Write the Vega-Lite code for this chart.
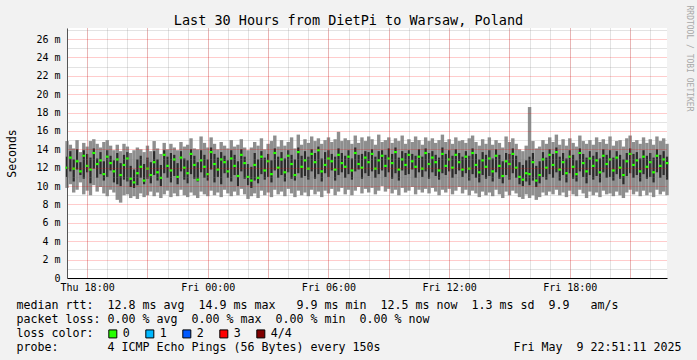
{
  "$schema": "https://vega.github.io/schema/vega-lite/v6.json",
  "width": 600,
  "height": 250,
  "autosize": "none",
  "padding": {"left": 67, "top": 28, "right": 30, "bottom": 82},
  "background": "#f2f2f2",
  "config": {
    "font": "DejaVu Sans Mono",
    "view": {"stroke": null, "fill": "#ffffff"}
  },
  "title": {
    "text": "Last 30 Hours from DietPi to Warsaw, Poland",
    "fontSize": 13.5,
    "fontWeight": "normal",
    "color": "#000000",
    "anchor": "middle",
    "frame": "group",
    "dx": -18.5,
    "baseline": "alphabetic",
    "offset": -33
  },
  "data": {
    "values": [
      {"t":"2025-05-08T17:00","min":9.8,"p2":11.0,"med":12.0,"p3":13.2,"max":14.9,"loss":"0"},
      {"t":"2025-05-08T17:10","min":10.2,"p2":11.6,"med":13.1,"p3":13.8,"max":14.5,"loss":"0"},
      {"t":"2025-05-08T17:20","min":9.3,"p2":10.5,"med":11.9,"p3":12.9,"max":14.1,"loss":"0"},
      {"t":"2025-05-08T17:30","min":9.6,"p2":11.8,"med":12.7,"p3":14.0,"max":15.0,"loss":"0"},
      {"t":"2025-05-08T17:40","min":10.4,"p2":11.2,"med":11.6,"p3":12.6,"max":13.7,"loss":"0"},
      {"t":"2025-05-08T17:50","min":9.1,"p2":10.8,"med":13.3,"p3":13.9,"max":14.7,"loss":"0"},
      {"t":"2025-05-08T18:00","min":9.5,"p2":11.5,"med":12.2,"p3":13.5,"max":14.3,"loss":"0"},
      {"t":"2025-05-08T18:10","min":9.0,"p2":10.3,"med":11.8,"p3":13.1,"max":14.9,"loss":"0"},
      {"t":"2025-05-08T18:20","min":10.1,"p2":11.9,"med":13.6,"p3":14.1,"max":15.1,"loss":"0"},
      {"t":"2025-05-08T18:30","min":9.4,"p2":10.9,"med":12.4,"p3":13.0,"max":14.6,"loss":"0"},
      {"t":"2025-05-08T18:40","min":9.9,"p2":11.3,"med":12.8,"p3":13.7,"max":14.2,"loss":"0"},
      {"t":"2025-05-08T18:50","min":9.2,"p2":10.6,"med":11.3,"p3":12.7,"max":14.8,"loss":"0"},
      {"t":"2025-05-08T19:00","min":8.9,"p2":11.0,"med":13.2,"p3":13.9,"max":15.0,"loss":"0"},
      {"t":"2025-05-08T19:10","min":9.6,"p2":11.7,"med":12.5,"p3":13.3,"max":14.4,"loss":"0"},
      {"t":"2025-05-08T19:20","min":9.3,"p2":10.4,"med":11.6,"p3":12.8,"max":13.9,"loss":"0"},
      {"t":"2025-05-08T19:30","min":8.5,"p2":10.2,"med":12.9,"p3":13.6,"max":14.5,"loss":"0"},
      {"t":"2025-05-08T19:40","min":8.2,"p2":10.0,"med":11.2,"p3":12.5,"max":13.8,"loss":"0"},
      {"t":"2025-05-08T19:50","min":9.0,"p2":10.7,"med":12.3,"p3":13.4,"max":14.6,"loss":"0"},
      {"t":"2025-05-08T20:00","min":9.1,"p2":10.5,"med":13.0,"p3":13.7,"max":14.3,"loss":"0"},
      {"t":"2025-05-08T20:10","min":8.7,"p2":9.9,"med":10.8,"p3":12.2,"max":13.6,"loss":"0"},
      {"t":"2025-05-08T20:20","min":8.9,"p2":9.8,"med":10.4,"p3":11.8,"max":13.9,"loss":"0"},
      {"t":"2025-05-08T20:30","min":8.6,"p2":10.1,"med":11.4,"p3":12.9,"max":14.2,"loss":"0"},
      {"t":"2025-05-08T20:40","min":9.2,"p2":10.9,"med":12.1,"p3":13.3,"max":14.0,"loss":"0"},
      {"t":"2025-05-08T20:50","min":8.8,"p2":10.2,"med":10.6,"p3":12.4,"max":13.7,"loss":"0"},
      {"t":"2025-05-08T21:00","min":9.0,"p2":10.8,"med":11.9,"p3":13.1,"max":14.4,"loss":"0"},
      {"t":"2025-05-08T21:10","min":9.4,"p2":10.3,"med":11.2,"p3":12.6,"max":13.8,"loss":"0"},
      {"t":"2025-05-08T21:20","min":8.9,"p2":11.2,"med":12.6,"p3":13.8,"max":14.9,"loss":"0"},
      {"t":"2025-05-08T21:30","min":9.3,"p2":10.6,"med":11.5,"p3":12.9,"max":14.1,"loss":"0"},
      {"t":"2025-05-08T21:40","min":8.7,"p2":10.0,"med":10.9,"p3":12.3,"max":13.5,"loss":"0"},
      {"t":"2025-05-08T21:50","min":9.1,"p2":11.4,"med":13.4,"p3":13.9,"max":14.7,"loss":"0"},
      {"t":"2025-05-08T22:00","min":9.5,"p2":10.9,"med":12.2,"p3":13.2,"max":14.0,"loss":"0"},
      {"t":"2025-05-08T22:10","min":8.8,"p2":10.4,"med":11.7,"p3":13.6,"max":14.6,"loss":"0"},
      {"t":"2025-05-08T22:20","min":9.2,"p2":11.1,"med":12.9,"p3":13.4,"max":14.2,"loss":"0"},
      {"t":"2025-05-08T22:30","min":8.9,"p2":10.2,"med":11.0,"p3":12.5,"max":13.9,"loss":"0"},
      {"t":"2025-05-08T22:40","min":9.6,"p2":11.6,"med":13.1,"p3":13.8,"max":14.8,"loss":"0"},
      {"t":"2025-05-08T22:50","min":9.0,"p2":10.7,"med":12.0,"p3":13.0,"max":14.3,"loss":"0"},
      {"t":"2025-05-08T23:00","min":8.8,"p2":10.3,"med":11.4,"p3":12.8,"max":14.5,"loss":"0"},
      {"t":"2025-05-08T23:10","min":9.3,"p2":11.3,"med":13.5,"p3":14.0,"max":15.2,"loss":"0"},
      {"t":"2025-05-08T23:20","min":9.0,"p2":10.8,"med":12.3,"p3":13.3,"max":14.1,"loss":"0"},
      {"t":"2025-05-08T23:30","min":8.7,"p2":10.5,"med":10.7,"p3":12.6,"max":14.0,"loss":"0"},
      {"t":"2025-05-08T23:40","min":9.4,"p2":11.5,"med":12.8,"p3":13.9,"max":15.4,"loss":"0"},
      {"t":"2025-05-08T23:50","min":9.1,"p2":10.9,"med":12.1,"p3":13.4,"max":14.7,"loss":"0"},
      {"t":"2025-05-09T00:00","min":8.9,"p2":10.6,"med":11.3,"p3":12.9,"max":14.2,"loss":"0"},
      {"t":"2025-05-09T00:10","min":9.5,"p2":11.8,"med":13.7,"p3":14.2,"max":15.3,"loss":"0"},
      {"t":"2025-05-09T00:20","min":9.0,"p2":10.4,"med":12.4,"p3":13.5,"max":14.6,"loss":"0"},
      {"t":"2025-05-09T00:30","min":9.3,"p2":11.0,"med":11.8,"p3":13.1,"max":14.0,"loss":"0"},
      {"t":"2025-05-09T00:40","min":8.8,"p2":10.2,"med":12.9,"p3":13.7,"max":14.8,"loss":"0"},
      {"t":"2025-05-09T00:50","min":9.6,"p2":11.4,"med":12.6,"p3":13.3,"max":14.4,"loss":"0"},
      {"t":"2025-05-09T01:00","min":9.2,"p2":10.9,"med":11.6,"p3":12.8,"max":14.1,"loss":"0"},
      {"t":"2025-05-09T01:10","min":8.9,"p2":10.5,"med":13.0,"p3":13.9,"max":15.0,"loss":"0"},
      {"t":"2025-05-09T01:20","min":9.4,"p2":11.2,"med":12.2,"p3":13.4,"max":14.3,"loss":"0"},
      {"t":"2025-05-09T01:30","min":9.0,"p2":10.0,"med":11.1,"p3":12.7,"max":14.5,"loss":"0"},
      {"t":"2025-05-09T01:40","min":9.7,"p2":11.6,"med":13.4,"p3":14.0,"max":15.1,"loss":"0"},
      {"t":"2025-05-09T01:50","min":9.1,"p2":10.8,"med":12.5,"p3":13.2,"max":14.2,"loss":"0"},
      {"t":"2025-05-09T02:00","min":8.6,"p2":10.1,"med":11.0,"p3":12.4,"max":13.9,"loss":"0"},
      {"t":"2025-05-09T02:10","min":8.9,"p2":9.8,"med":10.6,"p3":12.1,"max":14.2,"loss":"0"},
      {"t":"2025-05-09T02:20","min":9.2,"p2":10.6,"med":12.3,"p3":13.6,"max":14.8,"loss":"0"},
      {"t":"2025-05-09T02:30","min":8.7,"p2":10.3,"med":10.9,"p3":12.9,"max":14.4,"loss":"0"},
      {"t":"2025-05-09T02:40","min":9.5,"p2":11.3,"med":13.2,"p3":13.8,"max":15.2,"loss":"0"},
      {"t":"2025-05-09T02:50","min":9.0,"p2":10.7,"med":11.7,"p3":13.1,"max":14.0,"loss":"0"},
      {"t":"2025-05-09T03:00","min":9.3,"p2":11.0,"med":12.7,"p3":13.5,"max":14.6,"loss":"0"},
      {"t":"2025-05-09T03:10","min":8.8,"p2":10.4,"med":11.3,"p3":12.8,"max":14.9,"loss":"0"},
      {"t":"2025-05-09T03:20","min":9.6,"p2":11.7,"med":13.6,"p3":14.1,"max":15.5,"loss":"0"},
      {"t":"2025-05-09T03:30","min":9.1,"p2":10.9,"med":12.0,"p3":13.2,"max":14.3,"loss":"0"},
      {"t":"2025-05-09T03:40","min":9.4,"p2":11.2,"med":12.9,"p3":13.7,"max":15.0,"loss":"0"},
      {"t":"2025-05-09T03:50","min":8.9,"p2":10.5,"med":11.5,"p3":13.0,"max":14.4,"loss":"0"},
      {"t":"2025-05-09T04:00","min":9.7,"p2":11.5,"med":13.3,"p3":13.9,"max":14.8,"loss":"0"},
      {"t":"2025-05-09T04:10","min":9.2,"p2":10.8,"med":12.4,"p3":13.4,"max":15.3,"loss":"0"},
      {"t":"2025-05-09T04:20","min":8.8,"p2":10.6,"med":11.2,"p3":12.9,"max":14.1,"loss":"0"},
      {"t":"2025-05-09T04:30","min":9.5,"p2":11.4,"med":13.7,"p3":14.2,"max":15.6,"loss":"0"},
      {"t":"2025-05-09T04:40","min":9.0,"p2":10.9,"med":12.1,"p3":13.3,"max":14.5,"loss":"0"},
      {"t":"2025-05-09T04:50","min":9.3,"p2":11.1,"med":12.8,"p3":13.8,"max":15.1,"loss":"0"},
      {"t":"2025-05-09T05:00","min":8.9,"p2":10.7,"med":11.9,"p3":13.2,"max":14.7,"loss":"0"},
      {"t":"2025-05-09T05:10","min":9.6,"p2":11.6,"med":13.5,"p3":14.0,"max":15.4,"loss":"0"},
      {"t":"2025-05-09T05:20","min":9.1,"p2":10.8,"med":12.6,"p3":13.6,"max":14.9,"loss":"0"},
      {"t":"2025-05-09T05:30","min":9.4,"p2":11.3,"med":13.9,"p3":14.3,"max":15.2,"loss":"0"},
      {"t":"2025-05-09T05:40","min":8.8,"p2":10.5,"med":11.6,"p3":13.0,"max":14.6,"loss":"0"},
      {"t":"2025-05-09T05:50","min":9.5,"p2":11.4,"med":12.3,"p3":13.7,"max":15.0,"loss":"0"},
      {"t":"2025-05-09T06:00","min":9.2,"p2":11.0,"med":13.0,"p3":13.9,"max":15.3,"loss":"0"},
      {"t":"2025-05-09T06:10","min":9.7,"p2":11.7,"med":12.7,"p3":13.5,"max":14.8,"loss":"0"},
      {"t":"2025-05-09T06:20","min":9.0,"p2":10.6,"med":11.8,"p3":13.2,"max":15.1,"loss":"0"},
      {"t":"2025-05-09T06:30","min":9.4,"p2":11.2,"med":13.4,"p3":14.1,"max":15.9,"loss":"0"},
      {"t":"2025-05-09T06:40","min":9.8,"p2":11.5,"med":12.5,"p3":13.6,"max":14.9,"loss":"0"},
      {"t":"2025-05-09T06:50","min":9.1,"p2":10.9,"med":12.1,"p3":13.3,"max":15.2,"loss":"0"},
      {"t":"2025-05-09T07:00","min":9.6,"p2":11.3,"med":13.2,"p3":13.9,"max":15.0,"loss":"0"},
      {"t":"2025-05-09T07:10","min":9.0,"p2":10.7,"med":11.7,"p3":13.0,"max":14.6,"loss":"0"},
      {"t":"2025-05-09T07:20","min":9.5,"p2":11.6,"med":13.6,"p3":14.2,"max":15.5,"loss":"0"},
      {"t":"2025-05-09T07:30","min":9.9,"p2":11.8,"med":12.4,"p3":13.4,"max":14.7,"loss":"0"},
      {"t":"2025-05-09T07:40","min":9.2,"p2":10.8,"med":12.0,"p3":13.5,"max":15.3,"loss":"0"},
      {"t":"2025-05-09T07:50","min":9.7,"p2":11.4,"med":13.1,"p3":13.8,"max":14.9,"loss":"0"},
      {"t":"2025-05-09T08:00","min":9.3,"p2":11.1,"med":12.6,"p3":13.7,"max":15.4,"loss":"0"},
      {"t":"2025-05-09T08:10","min":9.8,"p2":11.6,"med":13.5,"p3":14.0,"max":15.1,"loss":"0"},
      {"t":"2025-05-09T08:20","min":9.1,"p2":10.9,"med":11.9,"p3":13.2,"max":14.5,"loss":"0"},
      {"t":"2025-05-09T08:30","min":9.5,"p2":11.3,"med":12.8,"p3":13.8,"max":15.6,"loss":"0"},
      {"t":"2025-05-09T08:40","min":10.0,"p2":11.7,"med":13.3,"p3":13.9,"max":14.8,"loss":"0"},
      {"t":"2025-05-09T08:50","min":9.4,"p2":11.0,"med":12.2,"p3":13.4,"max":15.0,"loss":"0"},
      {"t":"2025-05-09T09:00","min":9.7,"p2":11.5,"med":13.0,"p3":14.1,"max":15.3,"loss":"0"},
      {"t":"2025-05-09T09:10","min":9.2,"p2":10.8,"med":12.5,"p3":13.5,"max":14.7,"loss":"0"},
      {"t":"2025-05-09T09:20","min":9.6,"p2":11.4,"med":13.7,"p3":14.2,"max":15.2,"loss":"0"},
      {"t":"2025-05-09T09:30","min":9.0,"p2":10.6,"med":11.8,"p3":13.1,"max":14.9,"loss":"0"},
      {"t":"2025-05-09T09:40","min":9.8,"p2":11.7,"med":12.9,"p3":13.8,"max":15.5,"loss":"0"},
      {"t":"2025-05-09T09:50","min":9.3,"p2":11.2,"med":12.3,"p3":13.6,"max":14.6,"loss":"0"},
      {"t":"2025-05-09T10:00","min":9.5,"p2":11.3,"med":13.4,"p3":13.9,"max":15.1,"loss":"0"},
      {"t":"2025-05-09T10:10","min":9.9,"p2":11.8,"med":12.7,"p3":13.5,"max":14.8,"loss":"0"},
      {"t":"2025-05-09T10:20","min":9.1,"p2":10.9,"med":12.1,"p3":13.3,"max":15.4,"loss":"0"},
      {"t":"2025-05-09T10:30","min":9.6,"p2":11.5,"med":13.2,"p3":14.0,"max":15.0,"loss":"0"},
      {"t":"2025-05-09T10:40","min":9.3,"p2":11.0,"med":11.9,"p3":13.2,"max":14.5,"loss":"0"},
      {"t":"2025-05-09T10:50","min":9.7,"p2":11.6,"med":13.6,"p3":14.1,"max":15.3,"loss":"0"},
      {"t":"2025-05-09T11:00","min":9.2,"p2":10.8,"med":12.4,"p3":13.6,"max":14.9,"loss":"0"},
      {"t":"2025-05-09T11:10","min":9.8,"p2":11.5,"med":13.1,"p3":13.8,"max":15.2,"loss":"0"},
      {"t":"2025-05-09T11:20","min":9.4,"p2":11.1,"med":12.6,"p3":13.4,"max":14.7,"loss":"0"},
      {"t":"2025-05-09T11:30","min":9.0,"p2":10.7,"med":11.7,"p3":13.1,"max":15.0,"loss":"0"},
      {"t":"2025-05-09T11:40","min":9.6,"p2":11.4,"med":13.5,"p3":14.2,"max":15.6,"loss":"0"},
      {"t":"2025-05-09T11:50","min":9.3,"p2":11.2,"med":12.2,"p3":13.5,"max":14.8,"loss":"0"},
      {"t":"2025-05-09T12:00","min":9.7,"p2":11.6,"med":12.9,"p3":13.9,"max":15.1,"loss":"0"},
      {"t":"2025-05-09T12:10","min":9.1,"p2":10.9,"med":12.0,"p3":13.3,"max":14.6,"loss":"0"},
      {"t":"2025-05-09T12:20","min":9.5,"p2":11.3,"med":13.4,"p3":14.0,"max":15.3,"loss":"0"},
      {"t":"2025-05-09T12:30","min":9.9,"p2":11.7,"med":12.6,"p3":13.6,"max":14.9,"loss":"0"},
      {"t":"2025-05-09T12:40","min":9.2,"p2":11.0,"med":11.8,"p3":13.2,"max":15.0,"loss":"0"},
      {"t":"2025-05-09T12:50","min":9.6,"p2":11.4,"med":13.2,"p3":13.8,"max":14.7,"loss":"0"},
      {"t":"2025-05-09T13:00","min":9.0,"p2":10.6,"med":11.9,"p3":13.3,"max":15.2,"loss":"0"},
      {"t":"2025-05-09T13:10","min":9.5,"p2":11.3,"med":13.6,"p3":14.1,"max":15.5,"loss":"0"},
      {"t":"2025-05-09T13:20","min":9.2,"p2":10.9,"med":12.3,"p3":13.5,"max":14.8,"loss":"0"},
      {"t":"2025-05-09T13:30","min":8.8,"p2":10.4,"med":11.5,"p3":12.9,"max":14.4,"loss":"0"},
      {"t":"2025-05-09T13:40","min":9.4,"p2":11.2,"med":12.8,"p3":13.7,"max":15.1,"loss":"0"},
      {"t":"2025-05-09T13:50","min":9.0,"p2":10.8,"med":12.1,"p3":13.4,"max":14.6,"loss":"0"},
      {"t":"2025-05-09T14:00","min":9.3,"p2":11.1,"med":13.0,"p3":13.9,"max":15.3,"loss":"0"},
      {"t":"2025-05-09T14:10","min":8.9,"p2":10.5,"med":11.6,"p3":13.0,"max":14.5,"loss":"0"},
      {"t":"2025-05-09T14:20","min":9.6,"p2":11.5,"med":13.3,"p3":14.0,"max":15.0,"loss":"0"},
      {"t":"2025-05-09T14:30","min":9.1,"p2":10.8,"med":12.2,"p3":13.4,"max":14.7,"loss":"0"},
      {"t":"2025-05-09T14:40","min":8.7,"p2":10.3,"med":11.1,"p3":12.7,"max":14.2,"loss":"0"},
      {"t":"2025-05-09T14:50","min":9.4,"p2":11.2,"med":12.7,"p3":13.6,"max":15.4,"loss":"0"},
      {"t":"2025-05-09T15:00","min":9.0,"p2":10.7,"med":12.4,"p3":13.5,"max":14.8,"loss":"0"},
      {"t":"2025-05-09T15:10","min":9.5,"p2":11.4,"med":13.5,"p3":14.1,"max":15.2,"loss":"0"},
      {"t":"2025-05-09T15:20","min":9.2,"p2":10.9,"med":12.0,"p3":13.3,"max":14.6,"loss":"0"},
      {"t":"2025-05-09T15:30","min":8.8,"p2":10.2,"med":11.0,"p3":12.6,"max":14.0,"loss":"0"},
      {"t":"2025-05-09T15:40","min":8.6,"p2":10.0,"med":10.7,"p3":12.3,"max":13.8,"loss":"0"},
      {"t":"2025-05-09T15:50","min":9.1,"p2":10.5,"med":11.4,"p3":12.8,"max":14.4,"loss":"0"},
      {"t":"2025-05-09T16:00","min":8.7,"p2":10.1,"med":11.3,"p3":13.2,"max":18.6,"loss":"0"},
      {"t":"2025-05-09T16:10","min":9.0,"p2":10.6,"med":12.6,"p3":13.6,"max":14.9,"loss":"0"},
      {"t":"2025-05-09T16:20","min":8.5,"p2":9.9,"med":10.6,"p3":12.2,"max":14.1,"loss":"0"},
      {"t":"2025-05-09T16:30","min":8.8,"p2":10.3,"med":11.2,"p3":12.7,"max":14.3,"loss":"0"},
      {"t":"2025-05-09T16:40","min":9.3,"p2":11.0,"med":12.9,"p3":13.7,"max":15.0,"loss":"0"},
      {"t":"2025-05-09T16:50","min":9.0,"p2":10.7,"med":12.0,"p3":13.1,"max":14.6,"loss":"0"},
      {"t":"2025-05-09T17:00","min":9.4,"p2":11.3,"med":13.4,"p3":14.0,"max":15.3,"loss":"0"},
      {"t":"2025-05-09T17:10","min":9.1,"p2":10.9,"med":12.3,"p3":13.5,"max":14.8,"loss":"0"},
      {"t":"2025-05-09T17:20","min":9.6,"p2":11.5,"med":13.7,"p3":14.2,"max":15.6,"loss":"0"},
      {"t":"2025-05-09T17:30","min":9.0,"p2":10.6,"med":11.8,"p3":13.2,"max":14.5,"loss":"0"},
      {"t":"2025-05-09T17:40","min":9.3,"p2":11.2,"med":12.6,"p3":13.6,"max":15.1,"loss":"0"},
      {"t":"2025-05-09T17:50","min":8.8,"p2":10.4,"med":11.4,"p3":13.0,"max":14.4,"loss":"0"},
      {"t":"2025-05-09T18:00","min":9.5,"p2":11.4,"med":13.2,"p3":13.9,"max":15.2,"loss":"0"},
      {"t":"2025-05-09T18:10","min":9.1,"p2":10.8,"med":12.1,"p3":13.4,"max":14.7,"loss":"0"},
      {"t":"2025-05-09T18:20","min":8.9,"p2":10.5,"med":11.3,"p3":12.8,"max":14.3,"loss":"0"},
      {"t":"2025-05-09T18:30","min":9.6,"p2":11.6,"med":13.6,"p3":14.1,"max":15.5,"loss":"0"},
      {"t":"2025-05-09T18:40","min":9.2,"p2":11.0,"med":12.5,"p3":13.5,"max":14.9,"loss":"0"},
      {"t":"2025-05-09T18:50","min":8.7,"p2":10.3,"med":11.6,"p3":13.1,"max":14.6,"loss":"0"},
      {"t":"2025-05-09T19:00","min":9.4,"p2":11.2,"med":13.0,"p3":13.8,"max":15.0,"loss":"0"},
      {"t":"2025-05-09T19:10","min":9.0,"p2":10.7,"med":12.2,"p3":13.3,"max":14.5,"loss":"0"},
      {"t":"2025-05-09T19:20","min":9.3,"p2":11.1,"med":12.8,"p3":13.7,"max":15.3,"loss":"0"},
      {"t":"2025-05-09T19:30","min":8.8,"p2":10.4,"med":11.5,"p3":13.0,"max":14.8,"loss":"0"},
      {"t":"2025-05-09T19:40","min":9.5,"p2":11.5,"med":13.3,"p3":14.0,"max":15.1,"loss":"0"},
      {"t":"2025-05-09T19:50","min":9.1,"p2":10.9,"med":12.4,"p3":13.4,"max":14.6,"loss":"0"},
      {"t":"2025-05-09T20:00","min":9.2,"p2":11.0,"med":12.9,"p3":13.9,"max":15.4,"loss":"0"},
      {"t":"2025-05-09T20:10","min":8.9,"p2":10.6,"med":11.7,"p3":13.1,"max":14.4,"loss":"0"},
      {"t":"2025-05-09T20:20","min":9.4,"p2":11.3,"med":13.1,"p3":13.8,"max":14.9,"loss":"0"},
      {"t":"2025-05-09T20:30","min":9.0,"p2":10.8,"med":12.0,"p3":13.4,"max":15.0,"loss":"0"},
      {"t":"2025-05-09T20:40","min":8.7,"p2":10.2,"med":11.2,"p3":12.9,"max":14.3,"loss":"0"},
      {"t":"2025-05-09T20:50","min":9.3,"p2":11.1,"med":12.7,"p3":13.6,"max":15.2,"loss":"0"},
      {"t":"2025-05-09T21:00","min":9.6,"p2":11.4,"med":13.5,"p3":14.1,"max":15.5,"loss":"0"},
      {"t":"2025-05-09T21:10","min":9.1,"p2":10.9,"med":12.3,"p3":13.5,"max":14.8,"loss":"0"},
      {"t":"2025-05-09T21:20","min":9.4,"p2":11.2,"med":12.8,"p3":13.7,"max":15.0,"loss":"0"},
      {"t":"2025-05-09T21:30","min":8.9,"p2":10.5,"med":11.6,"p3":13.0,"max":14.6,"loss":"0"},
      {"t":"2025-05-09T21:40","min":9.5,"p2":11.3,"med":13.2,"p3":13.9,"max":15.3,"loss":"0"},
      {"t":"2025-05-09T21:50","min":9.0,"p2":10.8,"med":12.1,"p3":13.3,"max":14.7,"loss":"0"},
      {"t":"2025-05-09T22:00","min":9.3,"p2":11.0,"med":12.6,"p3":13.6,"max":15.1,"loss":"0"},
      {"t":"2025-05-09T22:10","min":8.8,"p2":10.4,"med":11.5,"p3":13.1,"max":14.5,"loss":"0"},
      {"t":"2025-05-09T22:20","min":9.6,"p2":11.5,"med":13.3,"p3":14.0,"max":15.4,"loss":"0"},
      {"t":"2025-05-09T22:30","min":9.1,"p2":10.9,"med":12.2,"p3":13.4,"max":14.9,"loss":"0"},
      {"t":"2025-05-09T22:40","min":9.4,"p2":11.2,"med":12.9,"p3":13.8,"max":15.2,"loss":"0"},
      {"t":"2025-05-09T22:50","min":9.0,"p2":10.7,"med":12.5,"p3":13.2,"max":14.6,"loss":"0"}
    ]
  },
  "resolve": {"axis": {"x": "independent", "y": "independent"}},
  "layer": [
    {
      "mark": {"type": "rule", "strokeWidth": 3.4, "color": "#8e8e8e"},
      "encoding": {
        "x": {
          "field": "t",
          "type": "temporal",
          "axis": {
            "orient": "bottom",
            "zindex": 1,
            "tickCount": 30,
            "grid": true,
            "gridDash": [1, 1],
            "gridColor": "rgba(128,128,128,0.45)",
            "labels": false,
            "ticks": false,
            "domain": false,
            "title": null
          }
        },
        "y": {
          "field": "min",
          "type": "quantitative",
          "scale": {"domain": [0, 27.2], "nice": false},
          "axis": {
            "orient": "left",
            "zindex": 1,
            "values": [1,3,5,7,9,11,13,15,17,19,21,23,25,27],
            "grid": true,
            "gridDash": [1, 1],
            "gridColor": "rgba(128,128,128,0.45)",
            "labels": false,
            "ticks": false,
            "domain": false,
            "title": null
          }
        },
        "y2": {"field": "max"}
      }
    },
    {
      "mark": {"type": "rule", "strokeWidth": 2.2, "color": "#2b2b2b"},
      "encoding": {
        "x": {
          "field": "t",
          "type": "temporal",
          "axis": {
            "orient": "bottom",
            "zindex": 1,
            "tickCount": 10,
            "grid": true,
            "gridDash": [1, 1],
            "gridColor": "rgba(255,0,0,0.4)",
            "labels": false,
            "ticks": false,
            "domain": false,
            "title": null
          }
        },
        "y": {
          "field": "p2",
          "type": "quantitative",
          "axis": {
            "orient": "left",
            "zindex": 1,
            "values": [0,2,4,6,8,10,12,14,16,18,20,22,24,26],
            "grid": true,
            "gridDash": [1, 1],
            "gridColor": "rgba(255,0,0,0.4)",
            "ticks": false,
            "domain": true,
            "domainColor": "#555555",
            "labelExpr": "datum.value === 0 ? '0\u00a0\u00a0' : datum.value + '\u00a0m'",
            "labelFontSize": 10,
            "labelColor": "#000000",
            "labelPadding": 7,
            "labelOverlap": false,
            "title": "Seconds",
            "titleFontSize": 11.5,
            "titleFontWeight": "normal",
            "titleColor": "#000000",
            "titleAngle": -90,
            "titleAlign": "center",
            "titleBaseline": "alphabetic",
            "titleX": -52,
            "titleY": 125
          }
        },
        "y2": {"field": "p3"}
      }
    },
    {
      "mark": {"type": "tick", "orient": "horizontal", "size": 3, "thickness": 2.2, "opacity": 1},
      "encoding": {
        "x": {
          "field": "t",
          "type": "temporal",
          "axis": {
            "orient": "bottom",
            "zindex": 1,
            "tickCount": 5,
            "format": "%a %H:%M",
            "grid": false,
            "ticks": false,
            "domain": true,
            "domainColor": "#000000",
            "labelFontSize": 10,
            "labelColor": "#000000",
            "labelPadding": 4,
            "labelFlush": false,
            "title": [
              "median\u00a0rtt:\u00a0\u00a012.8\u00a0ms\u00a0avg\u00a0\u00a014.9\u00a0ms\u00a0max\u00a0\u00a0\u00a09.9\u00a0ms\u00a0min\u00a0\u00a012.5\u00a0ms\u00a0now\u00a0\u00a01.3\u00a0ms\u00a0sd\u00a0\u00a09.9\u00a0\u00a0\u00a0am/s",
              "packet\u00a0loss:\u00a00.00\u00a0%\u00a0avg\u00a0\u00a00.00\u00a0%\u00a0max\u00a0\u00a00.00\u00a0%\u00a0min\u00a0\u00a00.00\u00a0%\u00a0now",
              "loss\u00a0color:",
              "probe:\u00a0\u00a0\u00a0\u00a0\u00a0\u00a0\u00a04\u00a0ICMP\u00a0Echo\u00a0Pings\u00a0(56\u00a0Bytes)\u00a0every\u00a0150s\u00a0\u00a0\u00a0\u00a0\u00a0\u00a0\u00a0\u00a0\u00a0\u00a0\u00a0\u00a0\u00a0\u00a0\u00a0\u00a0\u00a0\u00a0\u00a0Fri\u00a0May\u00a0\u00a09\u00a022:51:11\u00a02025"
            ],
            "titleFontSize": 11.63,
            "titleFontWeight": "normal",
            "titleColor": "#000000",
            "titleAlign": "left",
            "titleBaseline": "alphabetic",
            "titleLineHeight": 14,
            "titleLimit": 2000,
            "titleX": -51,
            "titleY": 30
          }
        },
        "y": {
          "field": "med",
          "type": "quantitative",
          "axis": {
            "orient": "right",
            "labels": false,
            "ticks": false,
            "domain": false,
            "grid": false,
            "title": "RRDTOOL / TOBI OETIKER",
            "titleFontSize": 8,
            "titleFontWeight": "normal",
            "titleColor": "#a8a8a8",
            "titleAngle": 90,
            "titleAlign": "left",
            "titleBaseline": "middle",
            "titleX": 21,
            "titleY": -23
          }
        },
        "color": {
          "field": "loss",
          "type": "nominal",
          "scale": {
            "domain": ["0", "1", "2", "3", "4/4"],
            "range": ["#26ff00", "#00b8ff", "#0059ff", "#ff0000", "#800000"]
          },
          "legend": {
            "orient": "none",
            "legendX": 40,
            "legendY": 300,
            "direction": "horizontal",
            "title": null,
            "padding": 0,
            "symbolType": "square",
            "symbolSize": 64,
            "symbolStrokeColor": "#000000",
            "symbolStrokeWidth": 1,
            "labelFontSize": 11.63,
            "labelColor": "#000000",
            "labelOffset": 4,
            "columnPadding": 13
          }
        }
      }
    }
  ]
}
